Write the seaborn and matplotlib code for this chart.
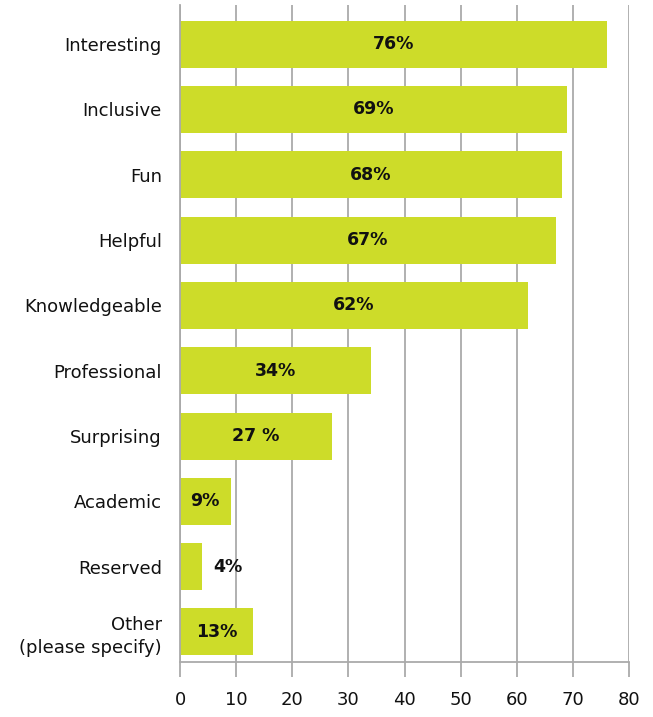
import matplotlib
matplotlib.use("Agg")
import matplotlib.pyplot as plt
import seaborn as sns
import pandas as pd

categories = ["Interesting", "Inclusive", "Fun", "Helpful", "Knowledgeable",
              "Professional", "Surprising", "Academic", "Reserved", "Other\n(please specify)"]
values = [76, 69, 68, 67, 62, 34, 27, 9, 4, 13]
value_labels = ["76%", "69%", "68%", "67%", "62%", "34%", "27 %", "9%", "4%", "13%"]
xticks = [0, 10, 20, 30, 40, 50, 60, 70, 80]

sns.set_theme(style="white")
plt.rcParams['font.family'] = ['DejaVu Sans']

df = pd.DataFrame({"cat": categories, "val": values})

fig = plt.figure(figsize=(6.53, 7.17), dpi=100)
ax = fig.add_axes([180/653, 1-662/717, (629-180)/653, (662-5)/717])

sns.barplot(data=df, y="cat", x="val", orient="h", color="#CDDC29",
            saturation=1, width=0.72, ax=ax, zorder=3, linewidth=0)

ax.set_xlim(0, 80)
ax.set_ylim(9.46, -0.6)
ax.set_xticks(xticks)
ax.set_xticklabels([str(t) for t in xticks], fontsize=13, color="#111111")
ax.xaxis.grid(True, color="#AAAAAA", linewidth=1.3, zorder=0)
ax.set_axisbelow(True)
ax.tick_params(axis="x", length=11, width=1.3, color="#AAAAAA", pad=10, bottom=True)
ax.tick_params(axis="y", length=0, pad=13, labelsize=13, labelcolor="#111111")
for t in ax.get_yticklabels():
    t.set_linespacing(1.35)
ax.set_xlabel("")
ax.set_ylabel("")
for s in ["top", "right"]:
    ax.spines[s].set_visible(False)
for s in ["left", "bottom"]:
    ax.spines[s].set_visible(True)
    ax.spines[s].set_color("#AAAAAA")
    ax.spines[s].set_linewidth(1.3)
    ax.spines[s].set_zorder(6)

for i, (v, lab) in enumerate(zip(values, value_labels)):
    if v < 6:
        x = v + 4.5
    else:
        x = v / 2
    ax.text(x, i, lab, ha="center", va="center", fontsize=12.5,
            fontweight="bold", color="#111111", zorder=5)

fig.savefig("out.png", dpi=100)
